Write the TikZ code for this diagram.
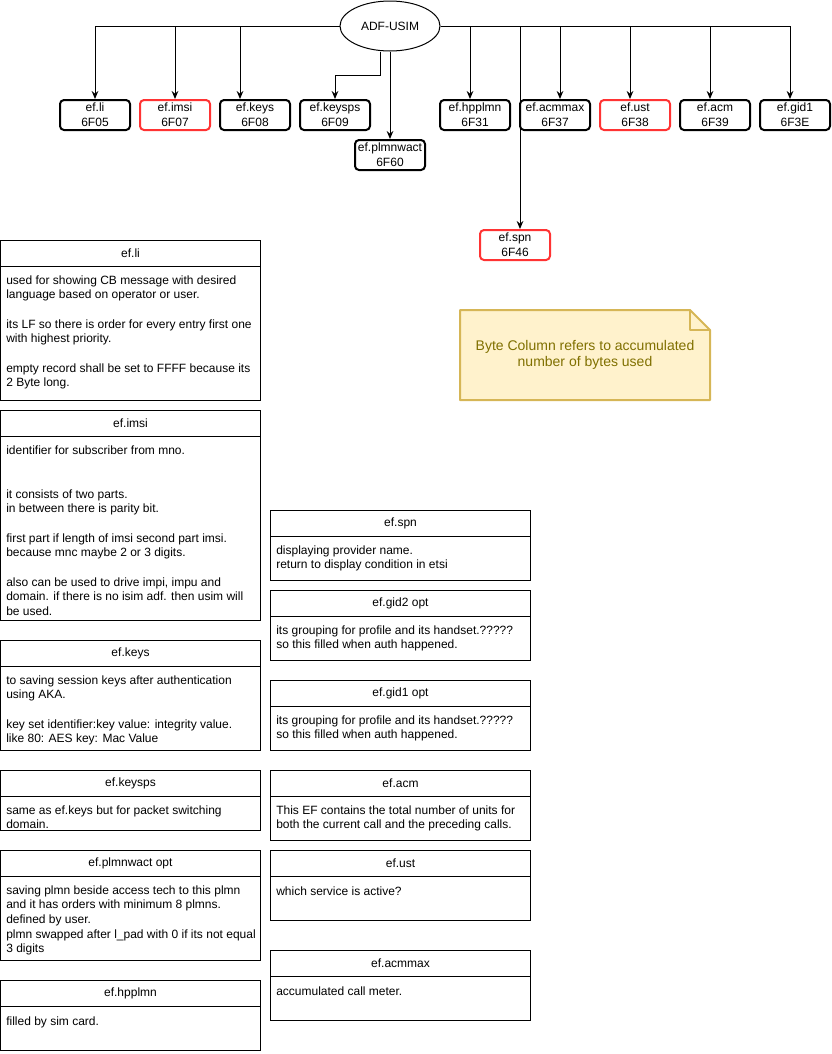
\documentclass[tikz,border=0pt]{standalone}
\usepackage{fontspec}
\setmainfont{Liberation Sans}
\usetikzlibrary{calc,shapes.geometric,arrows.meta}
\definecolor{efred}{HTML}{FF3333}
\definecolor{notefill}{HTML}{FFF2CC}
\definecolor{noteline}{HTML}{D6B656}
\definecolor{notetext}{RGB}{128,112,0}

\begin{document}
\begin{tikzpicture}[x=0.75pt,y=-0.75pt,
    every node/.style={font=\fontsize{9pt}{11pt}\selectfont},
    ef/.style={draw,line width=1.5pt,rounded corners=3pt,minimum width=52.5pt,minimum height=22.5pt,inner sep=0pt,align=center},
    efr/.style={ef,draw=efred},
    conn/.style={line width=0.75pt,-{Stealth[length=6pt,width=5pt,inset=2pt]}},
    tab/.style={line width=0.75pt},
    tabtitle/.style={inner sep=0pt},
    tabtext/.style={anchor=north west,inner sep=0pt,align=left,execute at begin node=\strut}]
    \useasboundingbox (0,0) rectangle (832,1054);
    % application and its files
    \node[draw,ellipse,line width=0.75pt,minimum width=75pt,minimum height=37.5pt,inner sep=0pt] (usim) at (390,26) {ADF-USIM};
    \node[ef] (li) at (95,115) {ef.li\\6F05};
    \node[efr] (imsi) at (175,115) {ef.imsi\\6F07};
    \node[ef] (keys) at (255,115) {ef.keys\\6F08};
    \node[ef] (keysps) at (335,115) {ef.keysps\\6F09};
    \node[ef] (plmnwact) at (390,155) {ef.plmnwact\\6F60};
    \node[ef] (hpplmn) at (475,115) {ef.hpplmn\\6F31};
    \node[ef] (acmmax) at (555,115) {ef.acmmax\\6F37};
    \node[efr] (ust) at (635,115) {ef.ust\\6F38};
    \node[ef] (acm) at (715,115) {ef.acm\\6F39};
    \node[ef] (gid1) at (795,115) {ef.gid1\\6F3E};
    \node[efr] (spn) at (515,245) {ef.spn\\6F46};
    \draw[conn] (usim.west) -| (li.north);
    \draw[conn] (usim.west) -| (imsi.north);
    \draw[conn] (usim.west) -| ($(keys.north)+(-15,0)$);
    \draw[conn] ($(usim.south)+(-10,0)$) -- ++(0,24) -| (keysps.north);
    \draw[conn] (usim.south) -- (plmnwact.north);
    \draw[conn] (usim.east) -| ($(hpplmn.north)+(-5,0)$);
    \draw[conn] (usim.east) -| ($(acmmax.north)+(5,0)$);
    \draw[conn] (usim.east) -| ($(ust.north)+(-5,0)$);
    \draw[conn] (usim.east) -| ($(acm.north)+(-5,0)$);
    \draw[conn] (usim.east) -| ($(gid1.north)+(-5,0)$);
    \draw[conn] (usim.east) -| ($(spn.north)+(5,0)$);
    % note
    \draw[line width=1.5pt,draw=noteline,fill=notefill,line join=round] (460,310)--(690,310)--(710,330)--(710,400)--(460,400)--cycle;
    \draw[line width=1.5pt,draw=noteline,line join=round] (690,310)--(690,330)--(710,330);
    \node[text=notetext,align=center,font=\fontsize{10.5pt}{12pt}\selectfont] (bytenote) at (585,355) {Byte Column refers to accumulated\\number of bytes used};
    % left column
    \draw[tab] (0.5,240) rectangle (260.5,400);
    \draw[tab] (0.5,266) -- (260.5,266);
    \node[tabtitle] (li-head) at (130.5,253) {ef.li};
    \node[tabtext] (li-body) at (6,275.2) {used for showing CB message with desired\\language based on operator or user.\\~\\its LF so there is order for every entry first one\\with highest priority.\\~\\empty record shall be set to FFFF because its\\2 Byte long.};
    \draw[tab] (0.5,410) rectangle (260.5,620);
    \draw[tab] (0.5,436) -- (260.5,436);
    \node[tabtitle] (imsi-head) at (130.5,423) {ef.imsi};
    \node[tabtext] (imsi-body) at (6,445.2) {identifier for subscriber from mno.\\~\\~\\it consists of two parts.\\in between there is parity bit.\\~\\first part if length of imsi second part imsi.\\because mnc maybe 2 or 3 digits.\\~\\also can be used to drive impi, impu and\\domain. if there is no isim adf. then usim will\\be used.};
    \draw[tab] (0.5,640) rectangle (260.5,750);
    \draw[tab] (0.5,666) -- (260.5,666);
    \node[tabtitle] (keys-head) at (130.5,653) {ef.keys};
    \node[tabtext] (keys-body) at (6,675.2) {to saving session keys after authentication\\using AKA.\\~\\key set identifier:key value: integrity value.\\like 80: AES key: Mac Value};
    \draw[tab] (0.5,770) rectangle (260.5,830);
    \draw[tab] (0.5,796) -- (260.5,796);
    \node[tabtitle] (keysps-head) at (130.5,783) {ef.keysps};
    \node[tabtext] (keysps-body) at (6,805.2) {same as ef.keys but for packet switching\\domain.};
    \draw[tab] (0.5,850) rectangle (260.5,960);
    \draw[tab] (0.5,876) -- (260.5,876);
    \node[tabtitle] (plmnwact-head) at (130.5,863) {ef.plmnwact opt};
    \node[tabtext] (plmnwact-body) at (6,885.2) {saving plmn beside access tech to this plmn\\and it has orders with minimum 8 plmns.\\defined by user.\\plmn swapped after l\_pad with 0 if its not equal\\3 digits};
    \draw[tab] (0.5,980) rectangle (260.5,1050);
    \draw[tab] (0.5,1006) -- (260.5,1006);
    \node[tabtitle] (hpplmn-head) at (130.5,993) {ef.hpplmn};
    \node[tabtext] (hpplmn-body) at (6,1015.2) {filled by sim card.};
    % right column
    \draw[tab] (270.5,510) rectangle (530.5,580);
    \draw[tab] (270.5,536) -- (530.5,536);
    \node[tabtitle] (spn-head) at (400.5,523) {ef.spn};
    \node[tabtext] (spn-body) at (276,545.2) {displaying provider name.\\return to display condition in etsi};
    \draw[tab] (270.5,590) rectangle (530.5,660);
    \draw[tab] (270.5,616) -- (530.5,616);
    \node[tabtitle] (gid2-head) at (400.5,603) {ef.gid2 opt};
    \node[tabtext] (gid2-body) at (276,625.2) {its grouping for profile and its handset.?????\\so this filled when auth happened.};
    \draw[tab] (270.5,680) rectangle (530.5,750);
    \draw[tab] (270.5,706) -- (530.5,706);
    \node[tabtitle] (gid1-head) at (400.5,693) {ef.gid1 opt};
    \node[tabtext] (gid1-body) at (276,715.2) {its grouping for profile and its handset.?????\\so this filled when auth happened.};
    \draw[tab] (270.5,770) rectangle (530.5,840);
    \draw[tab] (270.5,796) -- (530.5,796);
    \node[tabtitle] (acm-head) at (400.5,783) {ef.acm};
    \node[tabtext] (acm-body) at (276,805.2) {This EF contains the total number of units for\\both the current call and the preceding calls.};
    \draw[tab] (270.5,850) rectangle (530.5,920);
    \draw[tab] (270.5,876) -- (530.5,876);
    \node[tabtitle] (ust-head) at (400.5,863) {ef.ust};
    \node[tabtext] (ust-body) at (276,885.2) {which service is active?};
    \draw[tab] (270.5,950) rectangle (530.5,1020);
    \draw[tab] (270.5,976) -- (530.5,976);
    \node[tabtitle] (acmmax-head) at (400.5,963) {ef.acmmax};
    \node[tabtext] (acmmax-body) at (276,985.2) {accumulated call meter.};
\end{tikzpicture}
\end{document}
